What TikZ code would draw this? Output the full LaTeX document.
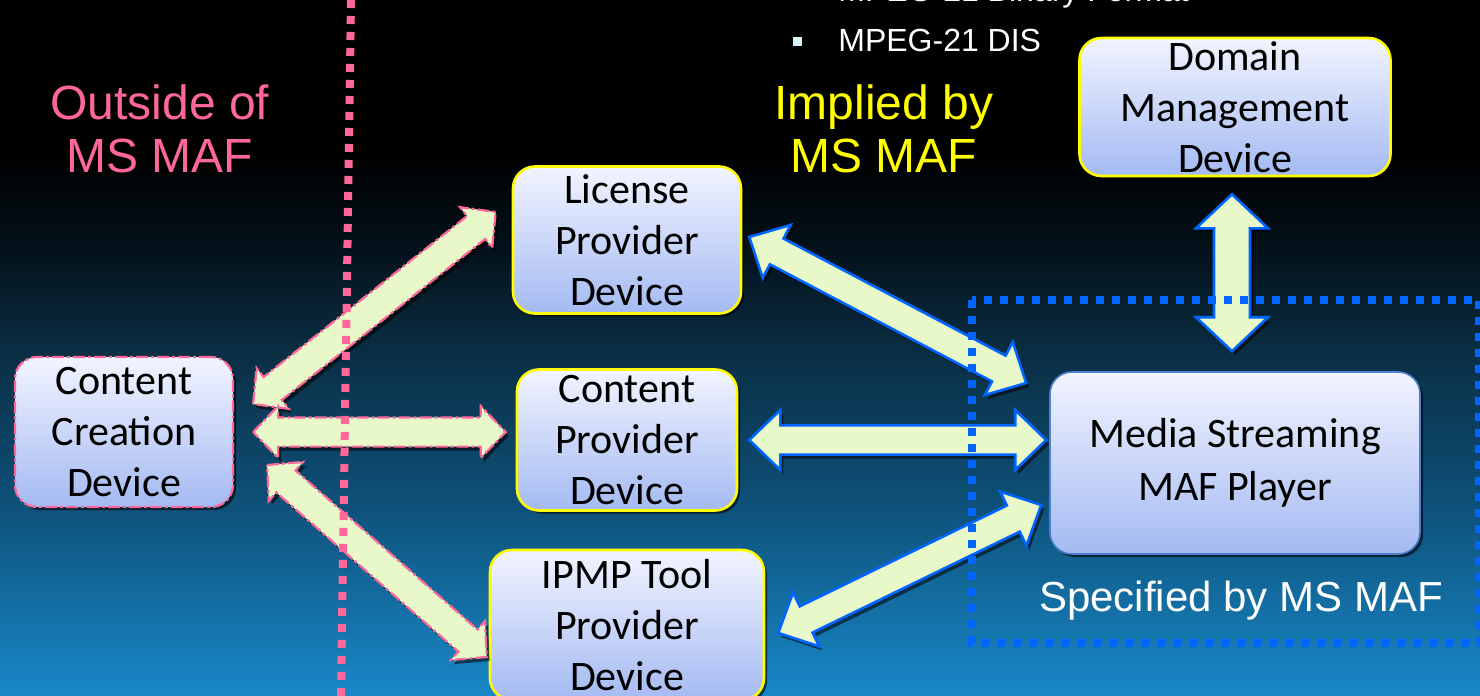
\documentclass[tikz,border=0pt]{standalone}
\usepackage{fontspec}
\setmainfont{Liberation Sans}
\newfontfamily\calib{Carlito}
\usetikzlibrary{calc,shadows}
\definecolor{bgbot}{HTML}{1888C8}
\definecolor{bglow}{HTML}{0E5078}
\definecolor{bgmid}{HTML}{0A2D42}
\definecolor{bgdark}{HTML}{04121B}
\definecolor{pinkc}{HTML}{FF6699}
\definecolor{bluec}{HTML}{0066FF}
\definecolor{yellowc}{HTML}{FFFF00}
\definecolor{arrowc}{HTML}{E8F8C8}
\definecolor{boxtop}{HTML}{F2F4FF}
\definecolor{boxbot}{HTML}{A4BAF2}
\definecolor{playerb}{HTML}{4F7FD0}
\definecolor{bulletc}{HTML}{D8F4F4}
\pgfdeclareverticalshading{bgshade}{100bp}{color(0bp)=(bgbot); color(25bp)=(bgbot); color(39bp)=(bglow); color(50bp)=(bgmid); color(57bp)=(bgdark); color(64bp)=(black); color(100bp)=(black)}
\newcommand\bapath[5]{(#1) -- ($(ba1)!#4!90:(#2)$) -- ($(ba1)!#3!90:(#2)$) -- ($(ba2)!#3!-90:(#1)$) -- ($(ba2)!#4!-90:(#1)$) -- (#2) -- ($(ba2)!#4!90:(#1)$) -- ($(ba2)!#3!90:(#1)$) -- ($(ba1)!#3!-90:(#2)$) -- ($(ba1)!#4!-90:(#2)$) -- cycle}
\newcommand\blockarrow[6]{%
  \path ($(#2)!#6!(#3)$) coordinate (ba1) ($(#3)!#6!(#2)$) coordinate (ba2);
  \fill[black,opacity=.55,transform canvas={shift={(1.5pt,-2pt)}}] \bapath{#2}{#3}{#4}{#5}{#6};
  \draw[#1] \bapath{#2}{#3}{#4}{#5}{#6};
}
\begin{document}
\begin{tikzpicture}[x=0.5pt,y=-0.5pt,
  box/.style={rounded corners=11pt, top color=boxtop, bottom color=boxbot, align=center,
    font=\calib\fontsize{21}{25.5}\selectfont, text=black, inner sep=0pt,
    drop shadow={shadow xshift=1.5pt, shadow yshift=-1.5pt, opacity=.6, fill=black}},
  ybox/.style={box, draw=yellowc, line width=1.3pt},
  pinkarrow/.style={fill=arrowc, draw=pinkc, line width=1.1pt, dash pattern=on 6pt off 1.5pt on 1.5pt off 1.5pt},
  bluearrow/.style={fill=arrowc, draw=bluec, line width=1.3pt, line join=miter},
  lbl/.style={align=center, font=\fontsize{24}{26.5}\selectfont},
]
\useasboundingbox (0,0) rectangle (1480,696);
\clip (0,0) rectangle (1480,696);
\shade[shading=bgshade] (0,0) rectangle (1480,696);

% nodes
\node[box, draw=pinkc, line width=1.1pt, dash pattern=on 6pt off 1.5pt on 1.5pt off 1.5pt,
  minimum width=109pt, minimum height=75pt] (ccd) at (124,432) {Content\\Creation\\Device};
\node[ybox, minimum width=114pt, minimum height=73.5pt] (lic) at (627,240) {License\\Provider\\Device};
\node[ybox, minimum width=110pt, minimum height=70.5pt] (cp) at (627,440) {Content\\Provider\\Device};
\node[ybox, minimum width=137pt, minimum height=75pt] (ipmp) at (627,625) {IPMP Tool\\Provider\\Device};
\node[ybox, minimum width=155.5pt, minimum height=69pt] (dom) at (1235,107) {Domain\\Management\\Device};
\node[box, draw=playerb, line width=0.8pt, minimum width=185pt, minimum height=91pt,
  font=\calib\fontsize{21}{26.5}\selectfont] (pl) at (1235,463) {Media Streaming\\MAF Player};

% arrow end points
\coordinate (a1s) at ($(ccd.east)+(19,-28)$);
\coordinate (a1e) at ($(lic.west)+(-16,-28)$);
\coordinate (a2s) at ($(ccd.east)+(19,0)$);
\coordinate (a2e) at ($(cp.west)+(-10,-8)$);
\coordinate (a3s) at ($(ccd.east)+(33,33)$);
\coordinate (a3e) at ($(ipmp.west)+(-2,32)$);
\coordinate (a4s) at ($(lic.east)+(7,-3)$);
\coordinate (a4e) at ($(pl.west)+(-23,-80)$);
\coordinate (a5s) at ($(cp.east)+(11,0)$);
\coordinate (a5e) at ($(pl.west)+(-3,-23)$);
\coordinate (a6s) at ($(ipmp.east)+(13,8)$);
\coordinate (a6e) at ($(pl.west)+(-8,42)$);
\coordinate (a7s) at ($(dom.south)+(-3,17)$);
\coordinate (a7e) at ($(pl.north)+(-3,-20)$);

\blockarrow{pinkarrow}{a1s}{a1e}{7.3pt}{13pt}{12.5pt}
\blockarrow{pinkarrow}{a2s}{a2e}{7.3pt}{13pt}{12.5pt}
\blockarrow{pinkarrow}{a3s}{a3e}{7.3pt}{13pt}{12.5pt}
\blockarrow{bluearrow}{a4s}{a4e}{7.3pt}{15pt}{15.5pt}
\blockarrow{bluearrow}{a5s}{a5e}{7.3pt}{15pt}{15.5pt}
\blockarrow{bluearrow}{a6s}{a6e}{7.3pt}{15pt}{15.5pt}
\blockarrow{bluearrow}{a7s}{a7e}{9pt}{18pt}{17pt}

% dotted boundaries
\coordinate (pkt) at (351,0);
\coordinate (pkb) at (341,696);
\draw[pinkc, line width=4pt, dash pattern=on 4pt off 4pt] (pkt) -- (pkb);
\coordinate (bl1) at (972,300);
\coordinate (bl2) at (1479,643);
\draw[bluec, line width=4pt, dash pattern=on 4pt off 4pt] (bl1) rectangle (bl2);

% labels
\node[lbl, text=pinkc] (out) at (160,129) {Outside of\\MS MAF};
\node[lbl, text=yellowc] (imp) at (884,129) {Implied by\\MS MAF};
\node[font=\fontsize{21}{25}\selectfont, text=white] (spec) at (1241,601) {Specified by MS MAF};
\node[anchor=base west, font=\fontsize{16}{19}\selectfont, text=white, inner sep=0pt] (bin) at (838,2) {MPEG-21 Binary Format};
\node[anchor=base west, font=\fontsize{16}{19}\selectfont, text=white, inner sep=0pt] (dis) at (838,52) {MPEG-21 DIS};
\node[fill=bulletc, minimum size=4.5pt, inner sep=0pt] (bul) at (797,41) {};
\end{tikzpicture}
\end{document}
